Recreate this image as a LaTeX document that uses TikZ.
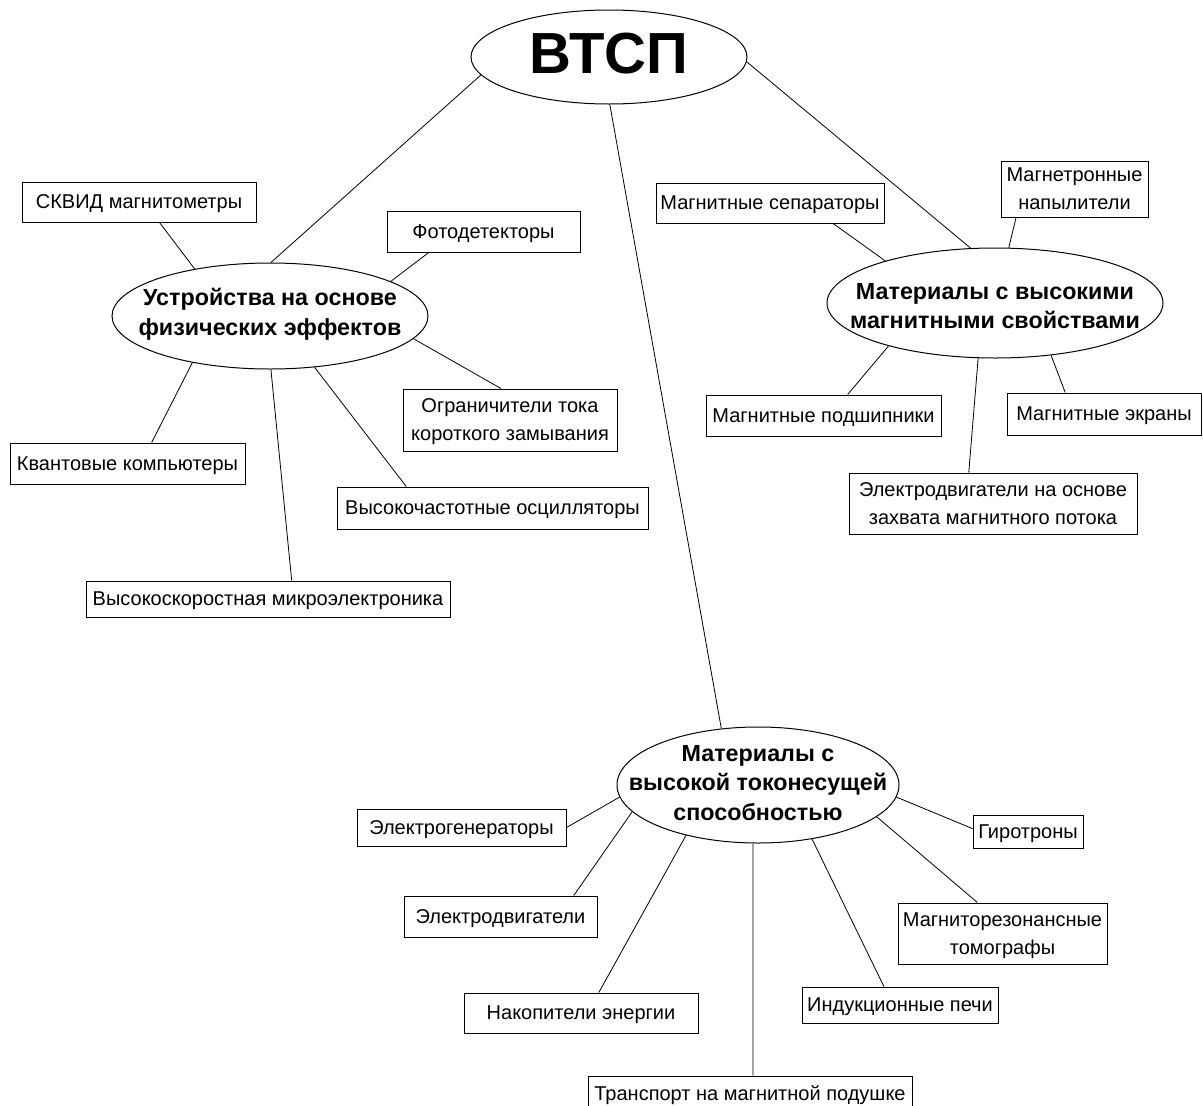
\documentclass[tikz,border=0pt]{standalone}
\usepackage{fontspec}
\setmainfont{Liberation Sans}
\usetikzlibrary{shapes.geometric}

\begin{document}
\begin{tikzpicture}[x=1pt,y=-1pt,
  conn/.style={line width=0.8pt},
  topic/.style={draw, ellipse, line width=1pt, inner sep=0pt},
  topictext/.style={font=\fontsize{23.3}{29.5}\selectfont\bfseries, align=center, inner sep=0pt},
  item/.style={draw, rectangle, line width=1pt, inner sep=0pt, text depth=0pt,
    font=\fontsize{20}{28}\selectfont, align=center},
]
\useasboundingbox (0,0) rectangle (1203,1106);

% central topic
\node[topic, minimum width=276, minimum height=94] (root) at (609,57) {};
\node[font=\fontsize{58}{60}\selectfont\bfseries, inner sep=0pt] (roottext) at (609,54) {ВТСП};

% three branches
\node[topic, minimum width=316, minimum height=106] (dev) at (270,316) {};
\node[topictext] (devtext) at (270,314) {Устройства на основе\\физических эффектов};

\node[topic, minimum width=336, minimum height=110] (mag) at (995,303) {};
\node[topictext] (magtext) at (995,306) {Материалы с высокими\\магнитными свойствами};

\node[topic, minimum width=282, minimum height=116] (cur) at (758,785) {};
\node[topictext] (curtext) at (758,783) {Материалы с\\высокой токонесущей\\способностью};

% devices based on physical effects
\node[item, minimum width=234, minimum height=40] (skvid) at (139,202) {СКВИД магнитометры};
\node[item, minimum width=193, minimum height=41] (foto) at (483.5,231.5) {Фотодетекторы};
\node[item, minimum width=214, minimum height=62] (ogr) at (510,420) {Ограничители тока\\короткого замывания};
\node[item, minimum width=235, minimum height=41] (kvant) at (127.5,463.5) {Квантовые компьютеры};
\node[item, minimum width=311, minimum height=42] (vchast) at (492.5,508) {Высокочастотные осцилляторы};
\node[item, minimum width=364, minimum height=36] (vskor) at (268,599) {Высокоскоростная микроэлектроника};

% materials with high magnetic properties
\node[item, minimum width=228, minimum height=40] (separ) at (770,203) {Магнитные сепараторы};
\node[item, minimum width=147, minimum height=56] (magnetr) at (1074.5,189) {Магнетронные\\напылители};
\node[item, minimum width=235, minimum height=41] (podsh) at (823.5,415.5) {Магнитные подшипники};
\node[item, minimum width=194, minimum height=42] (ekran) at (1104,414) {Магнитные экраны};
\node[item, minimum width=288, minimum height=61] (edvigflux) at (993,503.5) {Электродвигатели на основе\\захвата магнитного потока};

% materials with high current-carrying capacity
\node[item, minimum width=209, minimum height=37] (egen) at (461.5,827.5) {Электрогенераторы};
\node[item, minimum width=193, minimum height=41] (edvig) at (500.5,916.5) {Электродвигатели};
\node[item, minimum width=234, minimum height=40] (nakop) at (581,1013) {Накопители энергии};
\node[item, minimum width=324, minimum height=34] (transp) at (750,1093) {Транспорт на магнитной подушке};
\node[item, minimum width=196, minimum height=36] (indukc) at (900,1005) {Индукционные печи};
\node[item, minimum width=209, minimum height=61] (mrt) at (1002.5,933.5) {Магниторезонансные\\томографы};
\node[item, minimum width=110, minimum height=33] (girotr) at (1028,831.5) {Гиротроны};

% connectors
\draw[conn] (root.188.9) -- (dev.89);
\draw[conn] (root.358.8) -- (mag.114);
\draw[conn] (root.271.2) -- (cur.123.2);

\draw[conn] (dev.148.1) -- (skvid.315);
\draw[conn] (dev.16) -- (foto.201.3);
\draw[conn] (dev.351.5) -- (ogr.106.2);
\draw[conn] (dev.211.5) -- (kvant.41.1);
\draw[conn] (dev.271.1) -- (vskor.38);
\draw[conn] (dev.311.4) -- (vchast.166.5);

\draw[conn] (mag.159.7) -- (separ.342.4);
\draw[conn] (mag.76.5) -- (magnetr.206.4);
\draw[conn] (mag.202.7) -- (podsh.41.1);
\draw[conn] (mag.253.8) -- (edvigflux.128.2);
\draw[conn] (mag.317.6) -- (ekran.151.7);

\draw[conn] (cur.185) -- (egen.east);
\draw[conn] (cur.192.7) -- (edvig.16.4);
\draw[conn] (cur.215.5) -- (nakop.49.6);
\draw[conn] (cur.265.1) -- (transp.80);
\draw[conn] (cur.315.2) -- (indukc.131.6);
\draw[conn] (cur.345.7) -- (mrt.129.9);
\draw[conn] (cur.355.1) -- (girotr.177.4);
\end{tikzpicture}
\end{document}
